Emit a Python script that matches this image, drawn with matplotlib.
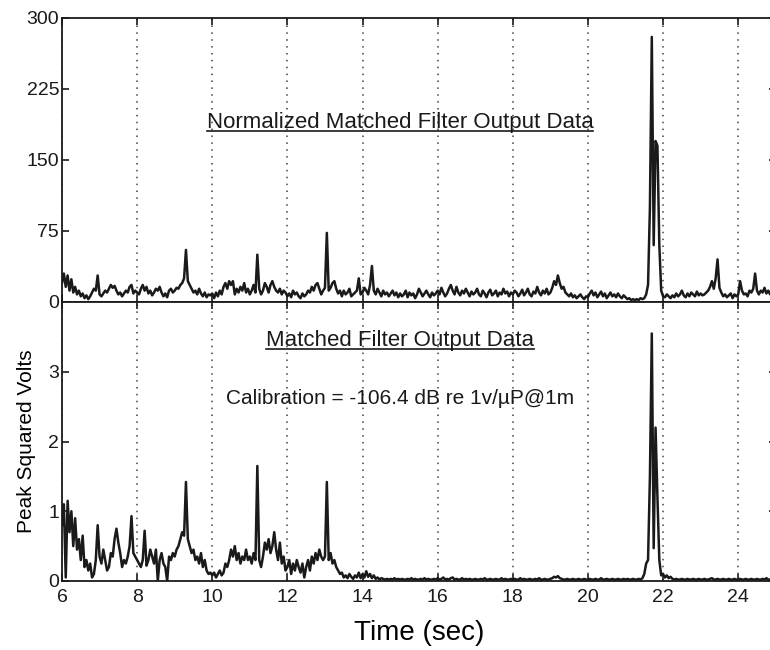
import numpy as np
import matplotlib
matplotlib.use("Agg")
import matplotlib.pyplot as plt
from matplotlib.lines import Line2D

plt.rcParams["font.family"] = ["Liberation Sans", "DejaVu Sans"]

# sample times (sec), 0.05 s spacing
time = np.round(np.arange(6.0, 25.001, 0.05), 2)

# normalized matched filter output, one row per second
norm_out = (
    [20, 30, 16, 28, 12, 24, 10, 16, 8, 12, 6, 9, 4, 7, 3, 6, 10, 14, 12, 28]
    + [8, 6, 9, 12, 10, 14, 18, 15, 17, 12, 8, 10, 6, 9, 12, 10, 16, 18, 9, 12]
    + [10, 8, 14, 18, 12, 16, 9, 12, 7, 10, 14, 12, 16, 10, 6, 9, 5, 12, 14, 10]
    + [12, 15, 14, 18, 20, 25, 55, 22, 18, 14, 10, 12, 8, 14, 9, 6, 10, 5, 8, 7]
    + [9, 4, 10, 6, 12, 8, 16, 20, 14, 22, 18, 22, 8, 14, 10, 16, 12, 20, 10, 14]
    + [8, 12, 18, 10, 50, 14, 8, 12, 20, 16, 10, 18, 22, 16, 12, 10, 14, 8, 12, 10]
    + [6, 9, 5, 12, 8, 10, 6, 4, 9, 6, 8, 12, 10, 16, 12, 18, 20, 14, 8, 12]
    + [15, 73, 12, 15, 20, 22, 14, 9, 12, 6, 12, 8, 10, 14, 6, 8, 10, 12, 25, 8]
    + [10, 15, 12, 8, 18, 38, 12, 8, 14, 10, 6, 12, 8, 10, 6, 9, 12, 7, 10, 5]
    + [9, 6, 8, 12, 5, 10, 7, 9, 4, 8, 14, 10, 6, 9, 12, 8, 5, 10, 7, 9]
    + [12, 8, 15, 10, 6, 9, 14, 18, 12, 8, 16, 10, 7, 12, 9, 14, 10, 6, 11, 8]
    + [10, 14, 8, 6, 12, 9, 5, 10, 13, 7, 9, 12, 6, 10, 8, 14, 9, 11, 6, 10]
    + [8, 12, 10, 6, 9, 13, 7, 10, 14, 8, 6, 11, 9, 16, 10, 7, 12, 9, 14, 8]
    + [10, 15, 22, 18, 28, 20, 14, 16, 10, 8, 6, 9, 5, 7, 4, 6, 8, 5, 3, 6]
    + [5, 9, 12, 7, 10, 5, 8, 11, 6, 9, 4, 7, 10, 6, 8, 5, 9, 6, 4, 7]
    + [5, 3, 4, 2, 3, 2, 3, 2, 4, 3, 4, 8, 18, 100, 280, 60, 170, 165, 60, 12]
    + [6, 5, 8, 6, 4, 7, 5, 9, 6, 8, 12, 7, 5, 9, 6, 10, 8, 6, 11, 7]
    + [9, 7, 8, 10, 12, 16, 22, 14, 25, 45, 15, 10, 6, 8, 5, 7, 9, 4, 8, 6]
    + [8, 22, 12, 8, 9, 6, 12, 10, 14, 30, 12, 8, 12, 10, 15, 9, 12, 8, 14, 10]
    + [12]
)

# matched filter output (peak squared volts)
mf_out = (
    [0.8, 1.1, 0.05, 1.15, 0.7, 1.0, 0.5, 0.9, 0.45, 0.6, 0.3, 0.65, 0.2, 0.3, 0.15, 0.25, 0.05, 0.1, 0.3, 0.8]
    + [0.35, 0.25, 0.45, 0.3, 0.15, 0.2, 0.4, 0.35, 0.6, 0.75, 0.55, 0.4, 0.2, 0.3, 0.25, 0.35, 0.5, 0.93, 0.4, 0.35]
    + [0.3, 0.25, 0.2, 0.3, 0.72, 0.22, 0.3, 0.45, 0.35, 0.25, 0.45, 0.0, 0.3, 0.4, 0.25, 0.2, 0.0, 0.35, 0.3, 0.4]
    + [0.35, 0.45, 0.5, 0.6, 0.7, 0.65, 1.42, 0.6, 0.5, 0.4, 0.45, 0.3, 0.35, 0.25, 0.4, 0.2, 0.3, 0.15, 0.1, 0.12]
    + [0.08, 0.12, 0.05, 0.1, 0.15, 0.08, 0.12, 0.25, 0.2, 0.3, 0.45, 0.35, 0.5, 0.3, 0.4, 0.25, 0.35, 0.3, 0.45, 0.3]
    + [0.35, 0.25, 0.4, 0.3, 1.65, 0.3, 0.2, 0.35, 0.55, 0.45, 0.6, 0.4, 0.5, 0.7, 0.45, 0.3, 0.55, 0.25, 0.35, 0.15]
    + [0.2, 0.3, 0.1, 0.25, 0.15, 0.3, 0.2, 0.12, 0.25, 0.05, 0.2, 0.3, 0.15, 0.35, 0.25, 0.4, 0.3, 0.45, 0.35, 0.3]
    + [0.35, 1.42, 0.3, 0.4, 0.25, 0.3, 0.2, 0.15, 0.1, 0.12, 0.05, 0.08, 0.04, 0.1, 0.06, 0.03, 0.08, 0.05, 0.12, 0.04]
    + [0.1, 0.05, 0.14, 0.06, 0.1, 0.04, 0.08, 0.03, 0.05, 0.02, 0.04, 0.03, 0.02, 0.03, 0.02, 0.03, 0.02, 0.04, 0.02, 0.03]
    + [0.02, 0.03, 0.02, 0.02, 0.03, 0.02, 0.04, 0.02, 0.03, 0.02, 0.02, 0.03, 0.02, 0.04, 0.02, 0.03, 0.02, 0.02, 0.03, 0.02]
    + [0.04, 0.02, 0.03, 0.05, 0.02, 0.03, 0.02, 0.04, 0.05, 0.02, 0.03, 0.02, 0.02, 0.04, 0.02, 0.03, 0.02, 0.03, 0.02, 0.02]
    + [0.03, 0.02, 0.02, 0.03, 0.02, 0.04, 0.02, 0.02, 0.03, 0.02, 0.02, 0.03, 0.02, 0.02, 0.04, 0.02, 0.03, 0.02, 0.02, 0.03]
    + [0.02, 0.03, 0.02, 0.02, 0.04, 0.02, 0.03, 0.02, 0.02, 0.03, 0.02, 0.02, 0.03, 0.02, 0.04, 0.02, 0.02, 0.03, 0.02, 0.02]
    + [0.03, 0.04, 0.06, 0.05, 0.07, 0.04, 0.03, 0.02, 0.02, 0.03, 0.02, 0.02, 0.03, 0.02, 0.02, 0.03, 0.02, 0.02, 0.03, 0.02]
    + [0.02, 0.03, 0.02, 0.02, 0.03, 0.02, 0.02, 0.04, 0.02, 0.02, 0.03, 0.02, 0.02, 0.03, 0.02, 0.02, 0.03, 0.02, 0.02, 0.03]
    + [0.02, 0.03, 0.02, 0.02, 0.03, 0.02, 0.02, 0.03, 0.02, 0.04, 0.1, 0.25, 0.3, 1.5, 3.55, 0.47, 2.2, 1.2, 0.3, 0.08]
    + [0.1, 0.05, 0.08, 0.04, 0.06, 0.03, 0.02, 0.03, 0.02, 0.02, 0.03, 0.02, 0.02, 0.03, 0.02, 0.02, 0.03, 0.02, 0.02, 0.03]
    + [0.02, 0.02, 0.03, 0.02, 0.02, 0.03, 0.04, 0.02, 0.02, 0.03, 0.02, 0.02, 0.03, 0.02, 0.02, 0.03, 0.02, 0.02, 0.03, 0.02]
    + [0.02, 0.03, 0.02, 0.02, 0.03, 0.02, 0.02, 0.03, 0.02, 0.02, 0.03, 0.02, 0.02, 0.03, 0.02, 0.04, 0.02, 0.02, 0.03, 0.02]
    + [0.02]
)

xticks = [6, 8, 10, 12, 14, 16, 18, 20, 22, 24]
top_yticks = [0, 75, 150, 225, 300]
bot_yticks = [0, 1, 2, 3]

title_top = "Normalized Matched Filter Output Data"
title_bot = "Matched Filter Output Data"
calib = "Calibration = -106.4 dB re 1v/\u00b5P@1m"

fig = plt.figure(figsize=(7.7, 6.5), dpi=100)
ax1 = fig.add_axes([0.0805, 0.5354, 0.927, 0.437])
ax2 = fig.add_axes([0.0805, 0.1062, 0.927, 0.429], sharex=ax1)

ax1.plot(time, norm_out, color="#1a1a1a", lw=1.8)
ax2.plot(time, mf_out, color="#1a1a1a", lw=1.8)

for ax in (ax1, ax2):
    ax.set_xlim(6, 25)
    ax.set_xticks(xticks)
    ax.grid(True, axis="x", color="0.25", linestyle=(0, (1, 3.5)), lw=1.1)
    ax.tick_params(direction="in", length=5, width=1.2, top=True, right=True,
                   labelsize=14, pad=2, colors="#1a1a1a")
    ax.tick_params(axis="x", pad=6)
    for sp in ax.spines.values():
        sp.set_linewidth(1.3)
        sp.set_color("#1a1a1a")

ax1.set_ylim(0, 300)
ax1.set_yticks(top_yticks)
ax1.tick_params(labelbottom=False)
ax2.set_ylim(0, 4)
ax2.set_yticks(bot_yticks)

ax2.set_xlabel("Time (sec)", fontsize=20, labelpad=10)
ax2.set_ylabel("Peak Squared Volts", fontsize=15, labelpad=9)

t1 = ax1.text(15, 190, title_top, fontsize=16, ha="center", va="center", color="#1a1a1a")
t2 = ax2.text(15, 3.45, title_bot, fontsize=16, ha="center", va="center", color="#1a1a1a")
ax2.text(15, 2.62, calib, fontsize=15, ha="center", va="center", color="#1a1a1a")

# underline the two titles
fig.canvas.draw()
inv = fig.transFigure.inverted()
for t in (t1, t2):
    bb = t.get_window_extent()
    (x0, y0), (x1, y1) = inv.transform([[bb.x0, bb.y0 + 2], [bb.x1, bb.y0 + 2]])
    fig.add_artist(Line2D([x0, x1], [y0, y1], color="#1a1a1a", lw=1.2))

fig.savefig("out.png", dpi=100)
